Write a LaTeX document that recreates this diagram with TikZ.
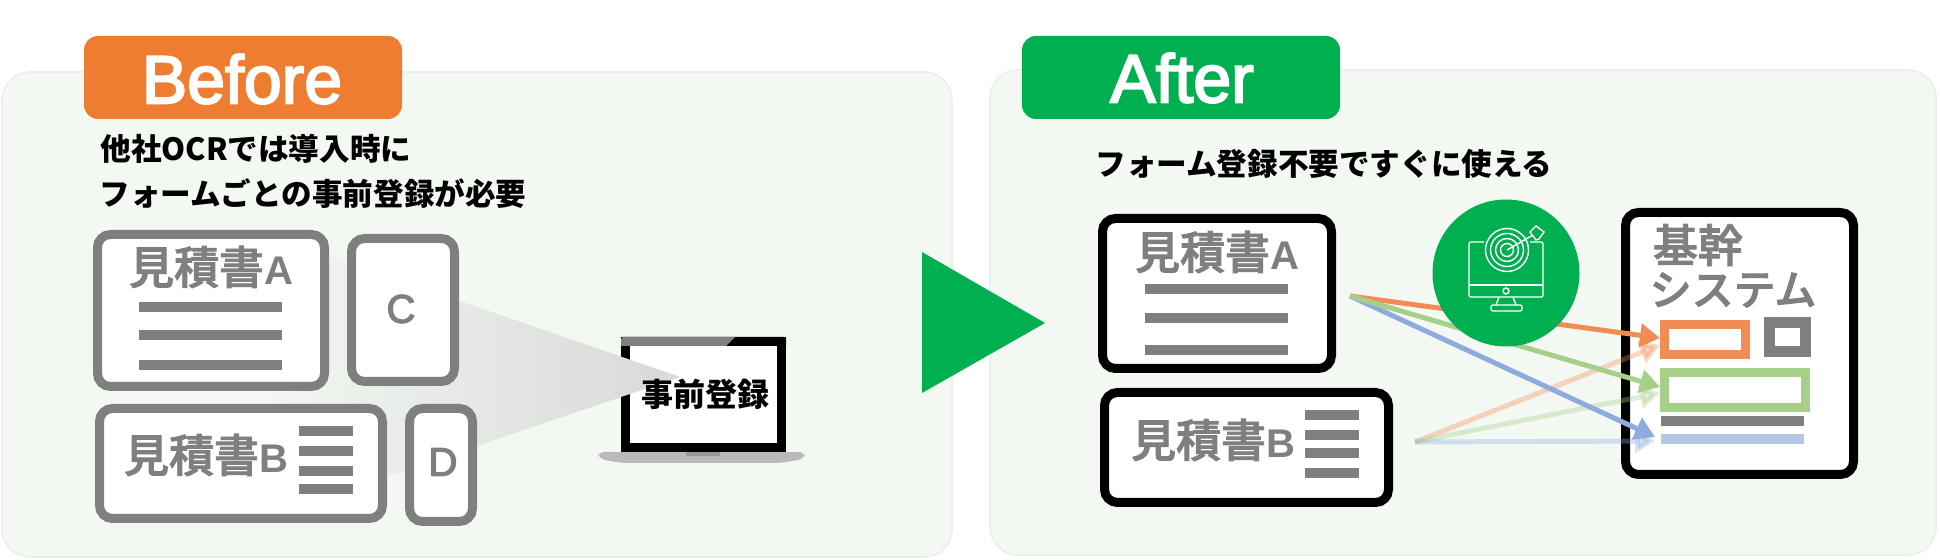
\documentclass[tikz,border=0pt]{standalone}
\usepackage{fontspec}
\usetikzlibrary{arrows.meta,shapes.geometric}
\newfontfamily\jp{Noto Sans CJK JP}
\newfontfamily\jpm[FakeBold=2]{Noto Sans CJK JP Medium}
\newfontfamily\hd[FakeBold=3]{Liberation Sans}
\setmainfont{Liberation Sans}
\definecolor{panelc}{HTML}{F3F9F2}
\definecolor{panelb}{HTML}{ECEEEC}
\definecolor{orangec}{HTML}{EE7D31}
\definecolor{greenc}{HTML}{00AF50}
\definecolor{grayc}{HTML}{7F7F7F}
\definecolor{arrO}{HTML}{F28C55}
\definecolor{arrG}{HTML}{A6D08A}
\definecolor{arrB}{HTML}{8FAADC}
\definecolor{barB}{HTML}{B4C7E7}
\newcommand{\szpx}[1]{\pgfmathsetmacro{\tmpfs}{#1*0.5}\fontsize{\tmpfs}{\tmpfs}\selectfont}
% \bx{name}{x1}{y1}{x2}{y2}{style}
\newcommand{\bx}[6]{\node[inner sep=0pt,outer sep=0pt,#6,minimum width={(#4-#2)*0.5pt},minimum height={(#5-#3)*0.5pt}] (#1) at ({(#2+#4)/2},{(#3+#5)/2}) {};}
\tikzset{
  panel/.style={draw=panelb,line width=.8pt,fill=panelc,rounded corners=14pt},
  tab/.style={rounded corners=7pt},
  grayframe/.style={draw=grayc,line width=4.5pt,fill=white,rounded corners=6.5pt},
  blackframe/.style={draw=black,line width=4.5pt,fill=white,rounded corners=6.5pt},
  bar/.style={fill=grayc},
  colframe/.style={draw=#1,line width=4.5pt,fill=white},
  head/.style={text=white,font=\hd\szpx{68},inner sep=0pt},
  doc/.style={text=grayc,font=\jpm\szpx{45},inner sep=0pt},
  lab/.style={text=black,font=\jp\bfseries\szpx{30.6},inner sep=0pt,anchor=west},
  letter/.style={text=grayc,font=\hd\szpx{40},inner sep=0pt},
  link/.style={line width=2.5pt,-{Triangle[length=10pt,width=11.5pt]}},
  faint/.style={link,opacity=.35},
  icon/.style={draw=white,line width=.7pt,fill=none},
}
\newcommand{\lt}[1]{{\bfseries\rmfamily\szpx{40}#1}}
\begin{document}
\begin{tikzpicture}[x=0.5pt,y=-0.5pt]
\useasboundingbox (0,0) rectangle (1940,560);
\fill[white] (0,0) rectangle (1940,560);
% panels
\bx{pl}{2}{72}{952}{557}{panel}
\bx{pr}{990}{70}{1936}{555}{panel}
\bx{tb}{84}{36}{402}{119}{tab,fill=orangec}
\bx{ta}{1022}{36}{1340}{119}{tab,fill=greenc}
\node[head] (tbt) at (242,79) {Before};
\node[head] (tat) at (1182,78) {After};
\node[lab] (l1) at (100,149) {他社OCRでは導入時に};
\node[lab] (l2) at (99,194) {フォームごとの事前登録が必要};
\node[lab] (l3) at (1095,164) {フォーム登録不要ですぐに使える};
% laptop
\fill[rounded corners=3pt,fill=gray!55!white] (598,452) -- (805,452) -- (804,459) -- (780,463) -- (622,463) -- (599,459) -- cycle;
\fill[gray!80!white] (686,452) rectangle (720,456);
\bx{lap}{625.5}{341.5}{781.5}{447.5}{draw=black,line width=4.5pt,fill=white}
\fill[black] (621,346) -- (621,339) -- (623,337) -- (784,337) -- (786,339) -- (786,346) -- cycle;
\fill[grayc] (621,346) -- (621,339) -- (623,337) -- (735,337) -- (726,346) -- cycle;
% wedge
\begin{scope}
\clip (243,226) -- (680,377) -- (388,476) -- (260,392) -- cycle;
\shade[left color=panelc,middle color=black!15,right color=black!15] (240,220) rectangle (680,480);
\end{scope}
\node[font=\jp\bfseries\szpx{32},inner sep=0pt] (jz) at (705,394) {事前登録};
% before docs
\bx{ba}{97.5}{234.5}{324.5}{386.5}{grayframe}
\bx{bc}{351.5}{238.5}{454.5}{381.5}{grayframe}
\bx{bb}{99.5}{408.5}{382.5}{518.5}{grayframe}
\bx{bd}{409.5}{408.5}{472.5}{521.5}{grayframe}
\node[doc] (bat) at (211,267) {見積書\lt{A}};
\node[doc] (bbt) at (206,455) {見積書\lt{B}};
\node[letter] (bct) at (401,309) {C};
\node[letter] (bdt) at (443,462) {D};
\bx{bl1}{139}{302}{282}{312}{bar}
\bx{bl2}{139}{330}{282}{340}{bar}
\bx{bl3}{139}{360}{282}{370}{bar}
\bx{bm1}{299}{426}{353}{436}{bar}
\bx{bm2}{299}{446}{353}{456}{bar}
\bx{bm3}{299}{466}{353}{476}{bar}
\bx{bm4}{299}{484}{353}{494}{bar}
% big arrow
\node[inner sep=0pt] (tri) at (922,252) {};
\fill[greenc] (922,252) -- (1045,323) -- (922,393) -- cycle;
% after docs
\bx{aa}{1102.5}{218.5}{1331.5}{368.5}{blackframe}
\bx{ab}{1104.5}{392.5}{1388.5}{502.5}{blackframe}
\bx{sys}{1625.5}{212.5}{1853.5}{474.5}{blackframe}
\node[doc] (aat) at (1217,252) {見積書\lt{A}};
\node[doc] (abt) at (1213,440) {見積書\lt{B}};
\bx{al1}{1145}{284}{1288}{294}{bar}
\bx{al2}{1145}{313}{1288}{323}{bar}
\bx{al3}{1145}{345}{1288}{355}{bar}
\bx{am1}{1305}{410}{1359}{420}{bar}
\bx{am2}{1305}{430}{1359}{440}{bar}
\bx{am3}{1305}{448}{1359}{458}{bar}
\bx{am4}{1305}{468}{1359}{478}{bar}
\node[doc] (st1) at (1698,245) {基幹};
\node[doc,font=\jpm\szpx{42}] (st2) at (1733,290) {システム};
\bx{fo}{1664.5}{324.5}{1745.5}{354.5}{colframe=arrO}
\bx{fs}{1769}{323}{1805}{352}{colframe=grayc,line width=5.5pt}
\bx{fg}{1664.5}{372.5}{1805.5}{407.5}{colframe=arrG}
\bx{sl}{1661}{416}{1804}{426}{bar}
\bx{sb}{1661}{434}{1804}{444}{fill=barB}
% connectors
\coordinate (srcA) at (1350,296);
\coordinate (srcB) at (1415,442);
\coordinate (eO) at (1660,338);
\coordinate (eG) at (1660,387);
\coordinate (eB) at (1655,437);
\coordinate (fO) at (1660,345);
\coordinate (fG) at (1660,393);
\coordinate (fB) at (1655,441);
\draw[faint,arrO] (srcB) -- (fO);
\draw[faint,arrG] (srcB) -- (fG);
\draw[faint,arrB] (srcB) -- (fB);
\draw[link,arrO] (srcA) -- (eO);
\draw[link,arrB] (srcA) -- (eB);
\draw[link,arrG] (srcA) -- (eG);
% icon
\node[circle,fill=greenc,minimum size=73.5pt,inner sep=0pt] (ic) at (1506,273) {};
\draw[icon,rounded corners=1pt] (1484,242) -- (1469,242) -- (1469,297) -- (1543,297) -- (1543,242) -- (1530,242);
\draw[icon] (1469,285) -- (1543,285);
\draw[icon] (1506,291) circle[radius=3];
\draw[icon] (1499,297) -- (1496,305) (1513,297) -- (1516,305);
\draw[icon,rounded corners=1pt] (1491,305) rectangle (1522,311);
\draw[icon] (1507,250) circle[radius=21.5] circle[radius=16.5] circle[radius=11.5] circle[radius=6.5];
\draw[icon] (1507,250) -- (1533,235);
\draw[icon] (1530,232) -- (1536,226) -- (1544,232) -- (1539,239) -- (1536,240) -- cycle;
\end{tikzpicture}
\end{document}
